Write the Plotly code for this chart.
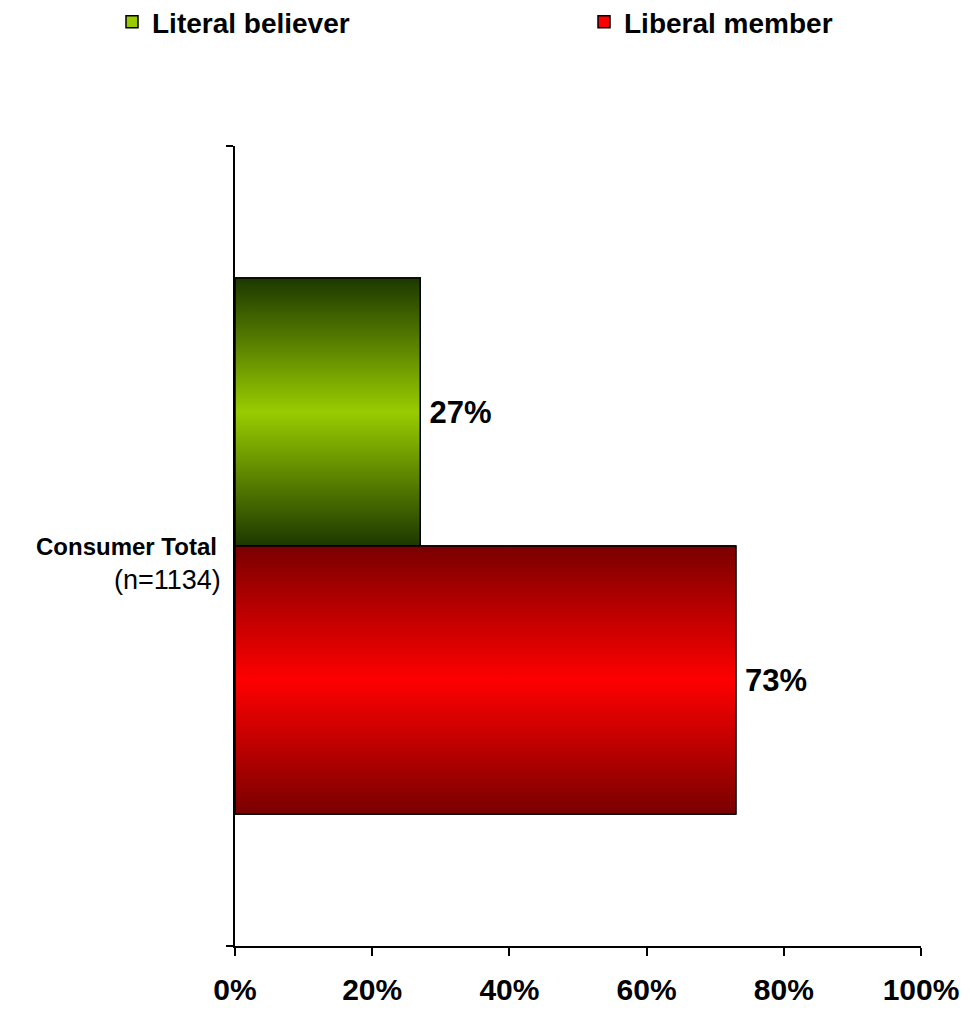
import plotly.graph_objects as go

# ---- data ----
category_label = "Consumer Total"
category_n = "(n=1134)"
series_names = ["Literal believer", "Liberal member"]
series_values = [27, 73]
x_ticks = [0, 20, 40, 60, 80, 100]
x_ticktext = ["0%", "20%", "40%", "60%", "80%", "100%"]

# ---- styles ----
mid_colors = ["#99cc00", "#ff0000"]
dark_colors = ["#1c3800", "#7a0000"]
BAR_W = 0.335
offsets = [0, -BAR_W]   # green above center, red below
legend_ids = ["legend", "legend2"]
FONT = "Liberation Sans, Arial, sans-serif"
W, H = 962, 1003   # page body has an 8px margin

fig = go.Figure()

for name, val, mc, dc, off, lg in zip(series_names, series_values, mid_colors,
                                      dark_colors, offsets, legend_ids):
    fig.add_trace(go.Bar(
        name=name, orientation="h", y=[0], x=[val], width=BAR_W, offset=off,
        marker=dict(color=mc, line=dict(color="black", width=1.5)),
        text=[f"\u2009{val}%"], textposition="outside",
        textfont=dict(family=FONT, size=31, color="black", weight="bold"),
        cliponaxis=False, hoverinfo="skip", legend=lg,
    ))

# gradient overlays following each bar's extents
for val, mc, dc, off in zip(series_values, mid_colors, dark_colors, offsets):
    y0, y1 = off, off + BAR_W
    fig.add_trace(go.Scatter(
        x=[0, val, val, 0, 0], y=[y0, y0, y1, y1, y0],
        mode="lines", fill="toself",
        fillgradient=dict(type="vertical",
                          colorscale=[[0, dc], [0.5, mc], [1, dc]]),
        line=dict(color="black", width=1.5),
        showlegend=False, hoverinfo="skip",
    ))

legend_font = dict(family=FONT, size=28, color="black", weight="bold")

fig.update_layout(
    width=W, height=H,
    margin=dict(l=227, r=49, t=138, b=65, autoexpand=False),
    plot_bgcolor="white", paper_bgcolor="white",
    barmode="overlay",
    showlegend=True,
    legend=dict(orientation="h", xref="container", yref="container",
                x=104 / W, y=1 - 14 / H, xanchor="left", yanchor="middle",
                font=legend_font, itemwidth=30, tracegroupgap=0),
    legend2=dict(orientation="h", xref="container", yref="container",
                 x=576 / W, y=1 - 14 / H, xanchor="left", yanchor="middle",
                 font=legend_font, itemwidth=30, tracegroupgap=0),
    xaxis=dict(
        range=[0, 100], tickvals=x_ticks, ticktext=x_ticktext,
        showgrid=False, zeroline=False, automargin=False,
        showline=True, linecolor="black", linewidth=1.5,
        ticks="outside", ticklen=8, tickwidth=1.5, tickcolor="black",
        tickfont=dict(family=FONT, size=30, color="black", weight="bold"),
        ticklabelstandoff=8,
    ),
    yaxis=dict(
        range=[-0.5, 0.5], tickvals=[-0.5, 0.5], ticktext=["", ""],
        showgrid=False, zeroline=False, automargin=False,
        showline=True, linecolor="black", linewidth=1.5,
        ticks="outside", ticklen=7, tickwidth=1.5, tickcolor="black",
    ),
    annotations=[
        dict(text=f"<b>{category_label}</b>", xref="paper", yref="y",
             x=0, y=0, xanchor="right", yanchor="middle", xshift=-16,
             showarrow=False, font=dict(family=FONT, size=24, color="black")),
        dict(text=category_n, xref="paper", yref="y",
             x=0, y=0, xanchor="right", yanchor="middle", xshift=-12, yshift=-34,
             showarrow=False, font=dict(family=FONT, size=27, color="black")),
    ],
)

fig.write_html("out.html")
